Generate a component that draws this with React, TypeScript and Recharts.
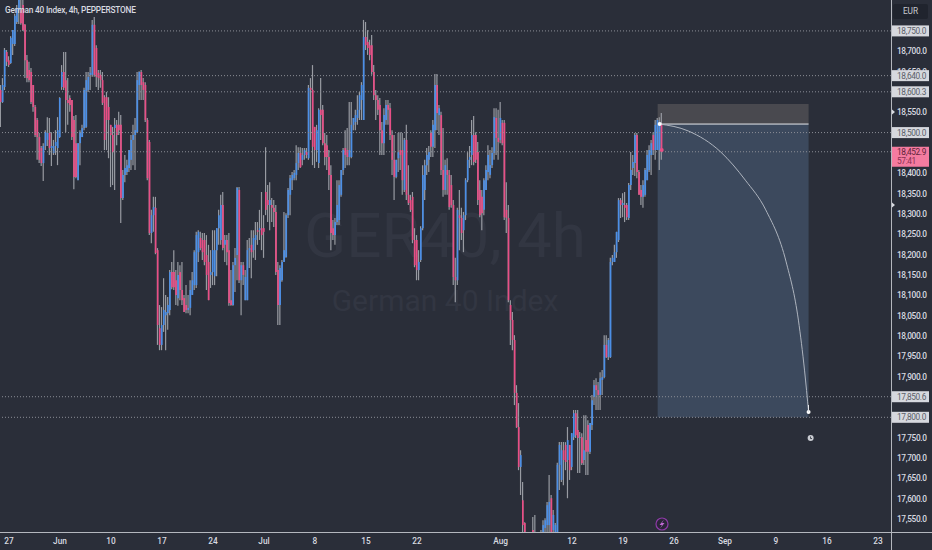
import { Bar, Cell, ComposedChart, Line, ReferenceArea, ReferenceDot, ReferenceLine, XAxis, YAxis } from "recharts";

const opens = [
  18605, 18575, 18612, 18698, 18678, 18671, 18718, 18718, 18772, 18801,
  18801, 18814, 18765, 18678, 18654, 18649, 18617, 18563, 18531, 18489,
  18462, 18425, 18467, 18482, 18499, 18462, 18450, 18467, 18462, 18489,
  18612, 18649, 18629, 18580, 18585, 18580, 18531, 18474, 18383, 18474,
  18489, 18511, 18514, 18605, 18642, 18642, 18765, 18708, 18647, 18642,
  18629, 18587, 18587, 18563, 18519, 18494, 18511, 18519, 18519, 18519,
  18339, 18396, 18403, 18413, 18433, 18482, 18494, 18501, 18617, 18649,
  18624, 18617, 18531, 18477, 18253, 18297, 18315, 18211, 18019, 17978,
  18027, 18051, 18056, 18064, 18157, 18157, 18137, 18093, 18157, 18113,
  18093, 18076, 18064, 18069, 18101, 18125, 18125, 18206, 18241, 18236,
  18236, 18199, 18182, 18150, 18157, 18147, 18211, 18265, 18236, 18322,
  18224, 18236, 18211, 18088, 18076, 18174, 18199, 18359, 18137, 18174,
  18088, 18088, 18211, 18224, 18211, 18236, 18260, 18260, 18265, 18265,
  18354, 18334, 18322, 18322, 18315, 18305, 18162, 18076, 18137, 18182,
  18194, 18297, 18347, 18383, 18388, 18396, 18425, 18450, 18433, 18445,
  18452, 18437, 18610, 18605, 18514, 18457, 18425, 18556, 18556, 18474,
  18469, 18440, 18396, 18265, 18248, 18280, 18285, 18347, 18408, 18462,
  18457, 18440, 18440, 18519, 18526, 18536, 18556, 18580, 18531, 18735,
  18723, 18715, 18715, 18649, 18592, 18580, 18568, 18506, 18474, 18531,
  18568, 18560, 18494, 18433, 18391, 18437, 18457, 18457, 18359, 18482,
  18347, 18334, 18342, 18236, 18236, 18162, 18187, 18265, 18359, 18420,
  18433, 18499, 18465, 18506, 18617, 18543, 18543, 18408, 18359, 18408,
  18396, 18371, 18322, 18145, 18137, 18297, 18290, 18260, 18297, 18383,
  18433, 18445, 18494, 18494, 18452, 18359, 18342, 18310, 18359, 18403,
  18396, 18420, 18450, 18536, 18487, 18482, 18524, 18524, 18310, 18290,
  18076, 18039, 17990, 17860, 17776, 17678, 17596, 17540, 17486, 17474,
  17498, 17523, 17518, 17486, 17474, 17498, 17510, 17528, 17535, 17535,
  17601, 17523, 17510, 17518, 17683, 17646, 17719, 17732, 17695, 17732,
  17678, 17751, 17810, 17769, 17749, 17751, 17695, 17744, 17781, 17715,
  17781, 17850, 17879, 17867, 17855, 17892, 17899, 17978, 17948, 17948,
  18182, 18182, 18206, 18236, 18334, 18322, 18322, 18322, 18290, 18371,
  18413, 18425, 18494, 18403, 18359, 18342, 18347, 18383, 18408, 18445,
  18494, 18457, 18457, 18457, 18519,
];

const closes = [
  18575, 18617, 18703, 18674, 18666, 18733, 18752, 18787, 18806, 18826,
  18769, 18752, 18678, 18634, 18629, 18575, 18563, 18494, 18489, 18433,
  18425, 18467, 18501, 18499, 18462, 18467, 18467, 18477, 18506, 18585,
  18649, 18610, 18580, 18573, 18568, 18489, 18391, 18391, 18474, 18501,
  18511, 18605, 18629, 18637, 18647, 18765, 18642, 18637, 18634, 18629,
  18573, 18482, 18531, 18531, 18494, 18452, 18519, 18494, 18506, 18339,
  18396, 18413, 18420, 18457, 18482, 18494, 18506, 18629, 18649, 18617,
  18605, 18531, 18388, 18253, 18297, 18317, 18204, 18027, 17978, 18027,
  18064, 18059, 18076, 18157, 18120, 18120, 18101, 18150, 18113, 18088,
  18059, 18064, 18069, 18113, 18137, 18206, 18248, 18256, 18216, 18206,
  18182, 18150, 18088, 18157, 18211, 18211, 18265, 18297, 18322, 18216,
  18236, 18206, 18081, 18076, 18174, 18192, 18364, 18137, 18174, 18150,
  18145, 18211, 18216, 18206, 18241, 18248, 18256, 18265, 18248, 18256,
  18310, 18322, 18334, 18315, 18305, 18157, 18076, 18167, 18182, 18211,
  18297, 18359, 18388, 18396, 18401, 18425, 18450, 18415, 18445, 18457,
  18445, 18610, 18605, 18465, 18457, 18506, 18556, 18543, 18474, 18440,
  18440, 18396, 18253, 18248, 18280, 18322, 18371, 18408, 18457, 18445,
  18440, 18457, 18519, 18536, 18543, 18556, 18592, 18617, 18735, 18715,
  18708, 18691, 18649, 18592, 18580, 18556, 18506, 18474, 18543, 18568,
  18556, 18494, 18433, 18391, 18433, 18452, 18445, 18383, 18482, 18347,
  18327, 18310, 18236, 18174, 18162, 18182, 18265, 18396, 18420, 18445,
  18452, 18465, 18519, 18617, 18548, 18560, 18408, 18359, 18420, 18396,
  18317, 18322, 18145, 18137, 18310, 18290, 18253, 18297, 18383, 18433,
  18440, 18494, 18428, 18433, 18334, 18297, 18302, 18383, 18408, 18445,
  18420, 18450, 18538, 18487, 18477, 18536, 18474, 18292, 18290, 18088,
  18039, 17990, 17860, 17776, 17678, 17707, 17535, 17518, 17461, 17461,
  17474, 17498, 17498, 17461, 17498, 17510, 17535, 17547, 17584, 17592,
  17498, 17560, 17535, 17683, 17732, 17719, 17695, 17690, 17744, 17670,
  17761, 17810, 17756, 17749, 17751, 17687, 17719, 17715, 17715, 17786,
  17842, 17879, 17867, 17855, 17896, 17899, 17978, 17948, 17990, 18182,
  18192, 18206, 18256, 18334, 18322, 18327, 18315, 18292, 18371, 18408,
  18428, 18494, 18403, 18347, 18342, 18371, 18408, 18445, 18457, 18474,
  18457, 18519, 18531, 18526, 18457,
];

const highs = [
  18617, 18634, 18708, 18703, 18688, 18737, 18752, 18792, 18814, 18826,
  18826, 18826, 18767, 18691, 18674, 18659, 18617, 18568, 18536, 18499,
  18467, 18474, 18506, 18538, 18536, 18501, 18482, 18506, 18538, 18587,
  18666, 18698, 18698, 18634, 18592, 18580, 18541, 18543, 18474, 18506,
  18519, 18610, 18649, 18649, 18661, 18777, 18784, 18715, 18654, 18654,
  18649, 18592, 18600, 18587, 18519, 18514, 18536, 18531, 18551, 18543,
  18408, 18445, 18433, 18457, 18494, 18519, 18536, 18649, 18651, 18654,
  18634, 18624, 18536, 18482, 18310, 18342, 18342, 18216, 18076, 18071,
  18142, 18101, 18096, 18162, 18182, 18211, 18162, 18182, 18174, 18182,
  18101, 18125, 18101, 18137, 18157, 18211, 18256, 18260, 18256, 18253,
  18253, 18248, 18224, 18211, 18260, 18260, 18265, 18310, 18347, 18354,
  18248, 18248, 18253, 18162, 18182, 18216, 18366, 18366, 18182, 18182,
  18162, 18236, 18241, 18260, 18260, 18280, 18280, 18310, 18354, 18297,
  18464, 18371, 18378, 18339, 18334, 18322, 18182, 18174, 18187, 18305,
  18302, 18364, 18396, 18403, 18408, 18469, 18464, 18464, 18462, 18462,
  18462, 18617, 18634, 18666, 18514, 18519, 18560, 18634, 18568, 18499,
  18494, 18457, 18420, 18285, 18290, 18383, 18383, 18408, 18462, 18506,
  18511, 18575, 18575, 18536, 18556, 18592, 18600, 18624, 18777, 18772,
  18752, 18728, 18740, 18666, 18605, 18592, 18585, 18526, 18560, 18580,
  18580, 18573, 18506, 18494, 18433, 18499, 18501, 18499, 18487, 18519,
  18420, 18347, 18354, 18265, 18248, 18211, 18270, 18420, 18433, 18462,
  18467, 18506, 18531, 18644, 18644, 18568, 18551, 18511, 18433, 18437,
  18408, 18396, 18334, 18192, 18315, 18359, 18315, 18305, 18388, 18452,
  18467, 18531, 18541, 18501, 18477, 18383, 18359, 18388, 18420, 18469,
  18457, 18464, 18560, 18560, 18556, 18575, 18531, 18531, 18378, 18322,
  18088, 18059, 18002, 17879, 17835, 17719, 17641, 17542, 17498, 17478,
  17510, 17555, 17560, 17498, 17510, 17523, 17547, 17552, 17592, 17658,
  17609, 17572, 17540, 17688, 17739, 17739, 17739, 17739, 17776, 17732,
  17761, 17818, 17818, 17818, 17764, 17761, 17805, 17805, 17793, 17786,
  17855, 17892, 17896, 17887, 17911, 17916, 18002, 18002, 17995, 18192,
  18199, 18224, 18256, 18339, 18339, 18351, 18354, 18327, 18376, 18452,
  18445, 18499, 18499, 18408, 18371, 18383, 18413, 18457, 18469, 18482,
  18501, 18531, 18536, 18538, 18548,
];

const lows = [
  18514, 18573, 18605, 18664, 18661, 18669, 18691, 18713, 18767, 18767,
  18765, 18750, 18634, 18624, 18624, 18570, 18551, 18489, 18433, 18425,
  18418, 18381, 18457, 18467, 18445, 18418, 18445, 18445, 18420, 18487,
  18605, 18605, 18501, 18519, 18551, 18482, 18361, 18388, 18383, 18420,
  18489, 18506, 18511, 18600, 18605, 18637, 18637, 18612, 18605, 18610,
  18568, 18457, 18457, 18437, 18366, 18371, 18359, 18469, 18494, 18278,
  18334, 18378, 18396, 18403, 18408, 18420, 18408, 18499, 18580, 18580,
  18580, 18526, 18383, 18248, 18228, 18256, 18201, 17978, 17965, 17965,
  18010, 17965, 18015, 18051, 18115, 18113, 18076, 18074, 18088, 18076,
  18059, 18056, 18056, 18051, 18101, 18113, 18118, 18182, 18211, 18187,
  18174, 18113, 18088, 18118, 18125, 18125, 18147, 18224, 18224, 18211,
  18182, 18174, 18074, 18074, 18074, 18108, 18137, 18130, 18051, 18125,
  18088, 18088, 18167, 18142, 18192, 18187, 18224, 18236, 18211, 18192,
  18297, 18280, 18260, 18280, 18268, 18150, 18027, 18027, 18133, 18182,
  18192, 18290, 18297, 18359, 18383, 18383, 18408, 18413, 18420, 18433,
  18437, 18433, 18482, 18420, 18413, 18428, 18413, 18482, 18469, 18420,
  18408, 18359, 18211, 18236, 18224, 18273, 18273, 18342, 18396, 18413,
  18420, 18420, 18437, 18506, 18506, 18519, 18531, 18531, 18531, 18703,
  18691, 18678, 18642, 18580, 18531, 18543, 18445, 18445, 18445, 18519,
  18519, 18482, 18396, 18334, 18388, 18403, 18408, 18347, 18354, 18334,
  18322, 18305, 18228, 18169, 18137, 18137, 18182, 18260, 18334, 18396,
  18403, 18440, 18440, 18462, 18506, 18494, 18396, 18342, 18347, 18347,
  18310, 18315, 18125, 18083, 18125, 18211, 18236, 18206, 18285, 18378,
  18413, 18420, 18420, 18425, 18322, 18292, 18260, 18297, 18359, 18383,
  18388, 18413, 18433, 18445, 18433, 18474, 18469, 18285, 18253, 18083,
  17978, 17965, 17830, 17774, 17670, 17609, 17518, 17518, 17449, 17449,
  17449, 17486, 17474, 17449, 17449, 17461, 17486, 17498, 17510, 17510,
  17486, 17486, 17486, 17498, 17621, 17641, 17633, 17670, 17601, 17646,
  17670, 17744, 17749, 17663, 17663, 17683, 17683, 17658, 17658, 17710,
  17769, 17830, 17818, 17818, 17818, 17855, 17896, 17946, 17941, 17946,
  18174, 18182, 18192, 18231, 18290, 18292, 18280, 18285, 18285, 18359,
  18396, 18393, 18388, 18347, 18322, 18315, 18342, 18383, 18403, 18396,
  18445, 18433, 18457, 18408, 18433,
];

// projection curve drawn over the short box
const curveIndex = [323, 337, 353, 365, 375, 385, 391, 394, 396];
const curveValues = [18521, 18504, 18452, 18383, 18310, 18182, 18039, 17916, 17813];

const dateTicks = [4, 29, 54, 79, 104, 129, 154, 179, 204, 245, 280, 305, 330, 355, 380, 405, 430];
const dateLabels = ["27", "Jun", "10", "17", "24", "Jul", "8", "15", "22", "Aug", "12", "19", "26", "Sep", "9", "16", "23"];

const priceTicks = [18700, 18650, 18550, 18400, 18350, 18300, 18250, 18200, 18150, 18100, 18050, 18000, 17950, 17900, 17750, 17700, 17650, 17600, 17550];
const levelTicks = [18750, 18640, 18600.3, 18500, 17850.6, 17800];
const lastPrice = 18452.9;
const countdown = "57:41";

const rows = [
  ...opens.map((o, idx) => ({
    i: idx,
    wick: [lows[idx], highs[idx]],
    body: [Math.min(o, closes[idx]), Math.max(o, closes[idx])],
    up: closes[idx] >= o,
    curve: curveIndex.includes(idx) ? curveValues[curveIndex.indexOf(idx)] : undefined,
  })),
  ...curveIndex
    .filter((c) => c >= opens.length)
    .map((c) => ({ i: c, curve: curveValues[curveIndex.indexOf(c)] })),
];

const BG = "#2a2e39";
const AXIS = "#b4b7be";
const FONT = "Roboto, 'Noto Sans', sans-serif";
const LABEL = 8.3;
const TIGHT = -0.35;
const X_DOMAIN: [number, number] = [-0.4, 436.4];

const fmt = (v: number) => v.toLocaleString("en-US", { minimumFractionDigits: 1, maximumFractionDigits: 1 });

function PriceTick({ x, y, payload }: any) {
  const v = payload.value;
  const left = x - 7;
  if (v === lastPrice) {
    return (
      <g fontFamily={FONT} fontSize={LABEL} letterSpacing={TIGHT}>
        <rect x={left} y={y - 5} width={37} height={20} fill="#f47ba0" />
        <text x={left + 5} y={y + 3} fill="#5d2338">{fmt(v)}</text>
        <text x={left + 5} y={y + 12} fill="#8a2f50">{countdown}</text>
      </g>
    );
  }
  if (levelTicks.includes(v)) {
    return (
      <g fontFamily={FONT} fontSize={LABEL} letterSpacing={TIGHT}>
        <rect x={left} y={y - 5.5} width={37} height={11} fill="#d6d8de" />
        <text x={left + 5} y={y + 3} fill="#5a5e68">{fmt(v)}</text>
      </g>
    );
  }
  return (
    <text x={left + 5} y={y + 3} fontFamily={FONT} fontSize={LABEL} fontWeight={500} letterSpacing={TIGHT} fill="#d8dae0">{fmt(v)}</text>
  );
}

export default function App() {
  return (
    <div style={{ position: "absolute", left: 0, top: 0, width: 932, height: 550, background: BG, overflow: "hidden", fontFamily: FONT }}>
      {/* watermark sits under the candles */}
      <div style={{ position: "absolute", left: 245, top: 204, width: 400, textAlign: "center", fontSize: 62, lineHeight: "64px", color: "#323642", whiteSpace: "nowrap" }}>GER40, 4h</div>
      <div style={{ position: "absolute", left: 245, top: 286, width: 400, textAlign: "center", fontSize: 30, lineHeight: "30px", color: "#323642", whiteSpace: "nowrap" }}>German 40 Index</div>

      <div style={{ position: "absolute", left: 0, top: 0 }}>
        <ComposedChart width={932} height={550} data={rows} margin={{ top: 0, right: 0, bottom: 0, left: 0 }}>
          <XAxis xAxisId="body" dataKey="i" type="number" domain={X_DOMAIN} allowDataOverflow hide height={0} />
          <XAxis
            xAxisId="wick"
            dataKey="i"
            type="number"
            domain={X_DOMAIN}
            allowDataOverflow
            ticks={dateTicks}
            interval={0}
            height={18}
            tickLine={false}
            tickSize={0}
            tickMargin={6}
            axisLine={false}
            tick={{ fill: "#d8dae0", fontSize: LABEL, fontWeight: 500, fontFamily: FONT }}
            tickFormatter={(v: number) => dateLabels[dateTicks.indexOf(v)]}
          />
          <YAxis
            orientation="right"
            width={41}
            type="number"
            domain={[17518, 18826]}
            allowDataOverflow
            ticks={[...priceTicks, ...levelTicks, lastPrice]}
            interval={0}
            tickLine={false}
            axisLine={false}
            tick={<PriceTick />}
          />

          <ReferenceArea xAxisId="wick" x1={322} x2={396} y1={18570} y2={18521} fill="#49494f" fillOpacity={1} stroke="none" />
          <ReferenceArea xAxisId="wick" x1={322} x2={396} y1={18521} y2={17800} fill="#3c495d" fillOpacity={1} stroke="none" />
          {[...levelTicks, lastPrice].map((lvl) => (
            <ReferenceLine key={lvl} xAxisId="wick" y={lvl} stroke="#8b8e96" strokeDasharray="1 2" strokeWidth={1} />
          ))}
          <ReferenceLine
            xAxisId="wick"
            segment={[{ x: 323, y: 18521 }, { x: 396, y: 18521 }]}
            stroke="#e4e6ea"
            strokeWidth={1}
          />

          <Bar xAxisId="wick" dataKey="wick" barSize={1.2} fill="#989ba2" isAnimationActive={false} />
          <Bar xAxisId="body" dataKey="body" barSize={1.7} isAnimationActive={false}>
            {rows.map((r) => (
              <Cell key={r.i} fill={(r as any).up ? "#4c8fe6" : "#e84f86"} />
            ))}
          </Bar>

          <Line
            xAxisId="wick"
            dataKey="curve"
            type="monotone"
            connectNulls
            dot={false}
            stroke="#aeb4be"
            strokeWidth={1}
            isAnimationActive={false}
          />
          <ReferenceDot xAxisId="wick" x={323} y={18521} r={2} fill="#ffffff" stroke="none" />
          <ReferenceDot xAxisId="wick" x={396} y={17813} r={2} fill="#ffffff" stroke="none" />
          <ReferenceDot xAxisId="wick" x={397} y={17749} r={3} fill="#c9ccd2" stroke="none" />
          <ReferenceDot xAxisId="wick" x={324} y={18457} r={2} fill="#e84f86" stroke="none" />
        </ComposedChart>
      </div>

      <div style={{ position: "absolute", left: 5, top: 5, fontSize: 8.3, fontWeight: 500, letterSpacing: -0.2, color: "#d8dae0", whiteSpace: "nowrap" }}>German 40 Index, 4h, PEPPERSTONE</div>
      <div style={{ position: "absolute", left: 893, top: 4, width: 35, height: 15, background: "#20242e", color: "#c8cad0", fontSize: 8.3, lineHeight: "15px", textAlign: "center", borderRadius: 2 }}>EUR</div>
      <div style={{ position: "absolute", left: 891, top: 0, width: 1, height: 550, background: AXIS }} />
      <div style={{ position: "absolute", left: 0, top: 532, width: 932, height: 1, background: AXIS }} />

      <svg width={932} height={550} style={{ position: "absolute", left: 0, top: 0, pointerEvents: "none" }}>
        <circle cx={662} cy={524} r={6} fill="#2a2538" stroke="#8e3aa8" strokeWidth={1.2} />
        <path d="M664 519.5 L659.5 525 L662 525 L660 528.5 L664.5 523 L662 523 Z" fill="#c06ad4" />
        <path d="M892 109.5 L895 112 L892 114.5 Z" fill="#d8dae0" />
        <path d="M892 202.5 L895 205 L892 207.5 Z" fill="#d8dae0" />
        <path d="M808.5 405 L808.5 412" stroke="#e4e6ea" strokeWidth={1} />
        <path d="M810.5 436.5 L810.5 438.5 L812 438.5" stroke="#2a2e39" strokeWidth={0.8} fill="none" />
      </svg>
    </div>
  );
}
